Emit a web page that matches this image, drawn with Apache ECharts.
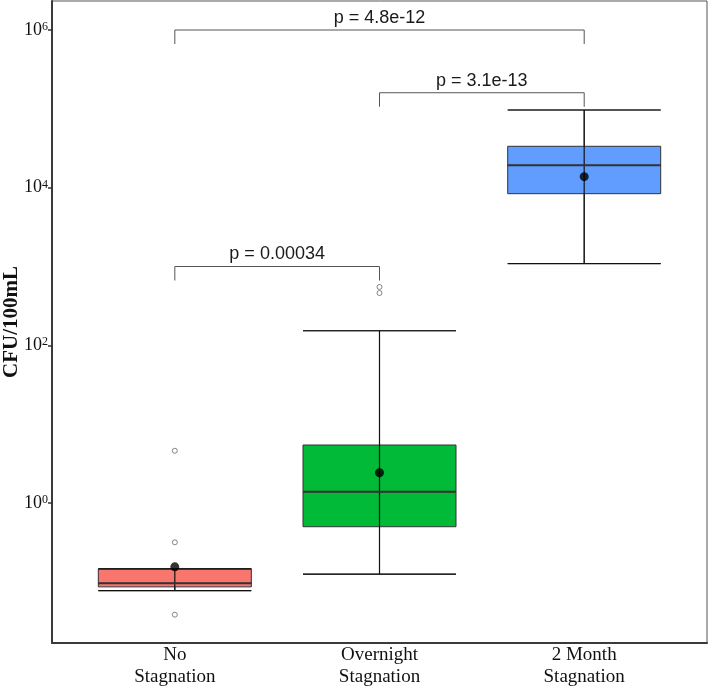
<!DOCTYPE html>
<html>
<head>
<meta charset="utf-8">
<script src="https://cdn.jsdelivr.net/npm/echarts@6/dist/echarts.min.js"></script>
<style>
  html, body { margin: 0; padding: 0; background: #fff; }
  #chart { width: 708px; height: 686px; }
</style>
</head>
<body>
<div id="chart"></div>
<script>
// groups on the x axis (positions 1, 2, 3)
const categories = ['No\nStagnation', 'Overnight\nStagnation', '2 Month\nStagnation']
const boxColors = ['#F8766D', '#00BA38', '#619CFF']

// box summary, CFU/100mL
const boxMin = [0.0772, 0.125, 1090]
const boxQ1 = [0.0863, 0.50, 8390]
const boxMedian = [0.0958, 1.39, 19200]
const boxQ3 = [0.146, 5.44, 33500]
const boxMax = [0.146, 153, 96700]
const means = [0.155, 2.42, 13800]

// outliers: [group, value]
const outliers = [[1, 4.6], [1, 0.317], [1, 0.0383], [2, 550], [2, 461]]

// comparison brackets: from group, to group, height, label
const bracketFrom = [1, 2, 1]
const bracketTo = [3, 3, 2]
const bracketY = [1e6, 1.6e5, 1e3]
const bracketLabels = ['p = 4.8e-12', 'p = 3.1e-13', 'p = 0.00034']

// y ticks as powers of ten
const yTickPowers = [0, 2, 4, 6]

const lg = v => Math.log10(v)
const serif = '"Liberation Serif", "DejaVu Serif", serif'
const sans = '"Liberation Sans", Arial, sans-serif'
const boxPx = 153

const chart = echarts.init(document.getElementById('chart'))

const boxData = categories.map((c, i) => ({
  value: [i + 1, lg(boxMin[i]), lg(boxQ1[i]), lg(boxMedian[i]), lg(boxQ3[i]), lg(boxMax[i])],
  itemStyle: { color: boxColors[i] }
}))

const errData = categories.map((c, i) => [i + 1, lg(boxMin[i]), lg(boxMax[i]), lg(boxMedian[i])])

const option = {
  animation: false,
  grid: {
    left: 52,
    right: 1,
    top: 1,
    bottom: 43,
    show: true,
    borderColor: '#555',
    borderWidth: 1,
    outerBoundsMode: 'none'
  },
  xAxis: {
    type: 'value',
    min: 0.4,
    max: 3.6,
    splitLine: { show: false },
    axisLine: { show: true, onZero: false, lineStyle: { color: '#3a3a3a', width: 2 } },
    axisTick: { show: false },
    axisLabel: {
      customValues: [1, 2, 3],
      formatter: v => categories[Math.round(v) - 1] || '',
      fontFamily: serif,
      fontSize: 19,
      lineHeight: 22,
      color: '#111',
      margin: 1
    }
  },
  yAxis: {
    type: 'value',
    min: -1.776,
    max: 6.368,
    name: 'CFU/100mL',
    nameLocation: 'middle',
    nameGap: 30,
    nameMoveOverlap: false,
    nameTextStyle: { fontFamily: serif, fontSize: 21, fontWeight: 'bold', color: '#111' },
    splitLine: { show: false },
    axisLine: { show: true, onZero: false, lineStyle: { color: '#3a3a3a', width: 2 } },
    axisTick: { show: true, length: 4, customValues: yTickPowers, lineStyle: { color: '#333', width: 1.5 } },
    axisLabel: {
      customValues: yTickPowers,
      margin: 4,
      formatter: v => '{b|10}{s|' + v + '}',
      rich: {
        b: { fontFamily: serif, fontSize: 18, color: '#111' },
        s: { fontFamily: serif, fontSize: 12, color: '#111', verticalAlign: 'top' }
      }
    }
  },
  series: [
    {
      type: 'boxplot',
      data: boxData,
      boxWidth: [boxPx, boxPx],
      itemStyle: { borderColor: '#333', borderWidth: 1 },
      z: 2
    },
    {
      // errorbar through the box and a heavier median line
      type: 'custom',
      data: errData,
      z: 3,
      renderItem: (params, api) => {
        const x = api.value(0)
        const lo = api.coord([x, api.value(1)])
        const hi = api.coord([x, api.value(2)])
        const half = boxPx / 2
        const med = api.coord([x, api.value(3)])
        return {
          type: 'group',
          children: [
            { type: 'line', shape: { x1: lo[0], y1: lo[1], x2: hi[0], y2: hi[1] }, style: { stroke: '#111', lineWidth: 1.2 } },
            { type: 'line', shape: { x1: lo[0] - half, y1: lo[1], x2: lo[0] + half, y2: lo[1] }, style: { stroke: '#111', lineWidth: 1.2 } },
            { type: 'line', shape: { x1: hi[0] - half, y1: hi[1], x2: hi[0] + half, y2: hi[1] }, style: { stroke: '#111', lineWidth: 1.2 } },
            { type: 'line', shape: { x1: med[0] - half, y1: med[1], x2: med[0] + half, y2: med[1] }, style: { stroke: '#333', lineWidth: 2 } }
          ]
        }
      }
    },
    {
      type: 'scatter',
      data: outliers.map(o => [o[0], lg(o[1])]),
      symbol: 'circle',
      symbolSize: 5,
      itemStyle: { color: '#fff', borderColor: '#666', borderWidth: 1 },
      z: 4
    },
    {
      type: 'scatter',
      data: means.map((m, i) => [i + 1, lg(m)]),
      symbol: 'circle',
      symbolSize: 9,
      itemStyle: { color: '#000' },
      z: 5
    },
    {
      type: 'custom',
      data: bracketLabels.map((l, i) => [bracketFrom[i], bracketTo[i], lg(bracketY[i])]),
      z: 6,
      renderItem: (params, api) => {
        const y = api.value(2)
        const p1 = api.coord([api.value(0), y])
        const p2 = api.coord([api.value(1), y])
        const tip = 14
        return {
          type: 'group',
          children: [
            {
              type: 'polyline',
              shape: { points: [[p1[0], p1[1] + tip], [p1[0], p1[1]], [p2[0], p2[1]], [p2[0], p2[1] + tip]] },
              style: { stroke: '#555', lineWidth: 1, fill: null }
            },
            {
              type: 'text',
              x: (p1[0] + p2[0]) / 2,
              y: p1[1] - 12,
              style: {
                text: bracketLabels[params.dataIndex],
                fontFamily: sans,
                fontSize: 18,
                fill: '#1a1a1a',
                align: 'center',
                verticalAlign: 'middle'
              }
            }
          ]
        }
      }
    }
  ]
}

chart.setOption(option)
</script>
</body>
</html>
